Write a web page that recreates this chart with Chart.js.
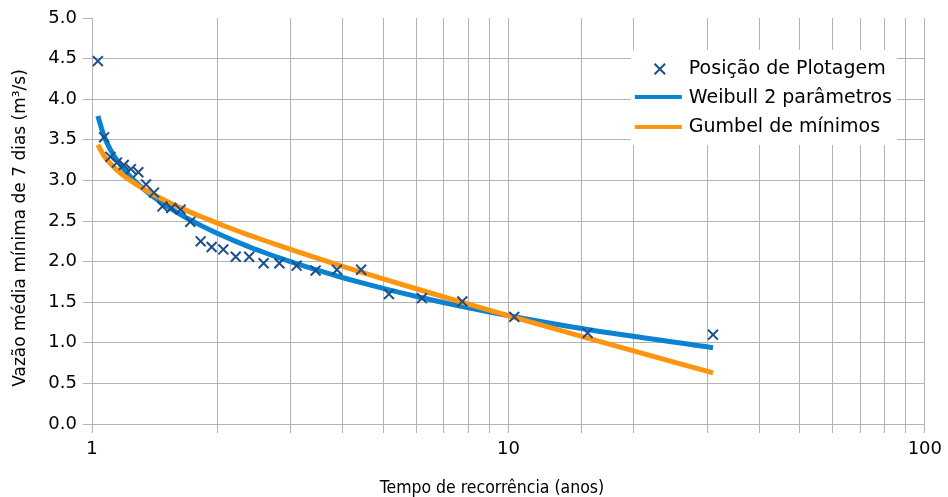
<!DOCTYPE html>
<html>
<head>
<meta charset="utf-8">
<script src="https://cdn.jsdelivr.net/npm/chart.js@4.4.0/dist/chart.umd.min.js"></script>
<style>
html,body{margin:0;padding:0;background:#ffffff;}
#wrap{position:relative;width:948px;height:497px;}
</style>
</head>
<body>
<div id="wrap"><canvas id="c" width="948" height="497"></canvas></div>
<script>
// ---- data ----
const returnPeriod = [1.033, 1.069, 1.107, 1.148, 1.192, 1.24, 1.292, 1.348, 1.409, 1.476, 1.55, 1.632, 1.722, 1.824, 1.938, 2.067, 2.214, 2.385, 2.583, 2.818, 3.10, 3.444, 3.875, 4.429, 5.167, 6.20, 7.75, 10.33, 15.5, 31.0];
const observed     = [4.47, 3.53, 3.29, 3.22, 3.19, 3.14, 3.10, 2.95, 2.85, 2.68, 2.66, 2.64, 2.49, 2.25, 2.18, 2.15, 2.06, 2.06, 1.98, 1.98, 1.95, 1.89, 1.90, 1.90, 1.60, 1.55, 1.51, 1.32, 1.12, 1.10];
const weibull2p    = [3.793, 3.545, 3.379, 3.249, 3.138, 3.040, 2.952, 2.870, 2.793, 2.719, 2.648, 2.579, 2.512, 2.446, 2.380, 2.315, 2.249, 2.182, 2.115, 2.045, 1.974, 1.901, 1.823, 1.741, 1.652, 1.555, 1.446, 1.320, 1.163, 0.940];
const gumbelMin    = [3.439, 3.303, 3.206, 3.127, 3.057, 2.994, 2.934, 2.877, 2.822, 2.769, 2.715, 2.662, 2.609, 2.555, 2.501, 2.444, 2.386, 2.326, 2.263, 2.196, 2.125, 2.048, 1.964, 1.871, 1.766, 1.644, 1.498, 1.314, 1.058, 0.630];
const seriesNames  = ['Posição de Plotagem', 'Weibull 2 parâmetros', 'Gumbel de mínimos'];
const xTickLabels  = [1, 10, 100];
const yTickLabels  = ['0.0','0.5','1.0','1.5','2.0','2.5','3.0','3.5','4.0','4.5','5.0'];
const xTitle = 'Tempo de recorrência (anos)';
const yTitle = 'Vazão média mínima de 7 dias (m³/s)';

// ---- styles ----
const markerColor = '#1d4f8c';
const weibullColor = '#0a83d1';
const gumbelColor = '#ff950e';
const gridColor = '#b3b3b3';

function pts(ys){ return returnPeriod.map((t,i)=>({x:t, y:ys[i]})); }

const titlesAndLegend = {
  id: 'titlesAndLegend',
  afterDraw(chart){
    const ctx = chart.ctx, ca = chart.chartArea;
    ctx.save();
    // axis titles
    ctx.fillStyle = '#000';
    ctx.textAlign = 'center';
    ctx.textBaseline = 'middle';
    ctx.font = '17.5px "DejaVu Sans Condensed", "DejaVu Sans"';
    ctx.fillText(xTitle, 492, 488);
    ctx.translate(21, 228);
    ctx.rotate(-Math.PI/2);
    ctx.font = '17px "DejaVu Sans"';
    ctx.fillText(yTitle, 0, 0);
    ctx.restore();

    // legend box
    ctx.save();
    const lx = ca.right - 294, ly = ca.top + 32;
    ctx.fillStyle = '#ffffff';
    ctx.fillRect(lx, ly, 266, 95);
    // marker
    const mx = lx + 29, my = ly + 19, r = 7;
    ctx.strokeStyle = markerColor; ctx.lineWidth = 2;
    ctx.beginPath();
    ctx.moveTo(mx - r*0.75, my - r*0.75); ctx.lineTo(mx + r*0.75, my + r*0.75);
    ctx.moveTo(mx + r*0.75, my - r*0.75); ctx.lineTo(mx - r*0.75, my + r*0.75);
    ctx.stroke();
    // lines
    ctx.lineWidth = 4;
    ctx.strokeStyle = weibullColor;
    ctx.beginPath(); ctx.moveTo(lx + 4, ly + 47); ctx.lineTo(lx + 51, ly + 47); ctx.stroke();
    ctx.strokeStyle = gumbelColor;
    ctx.beginPath(); ctx.moveTo(lx + 4, ly + 77); ctx.lineTo(lx + 51, ly + 77); ctx.stroke();
    // text
    ctx.fillStyle = '#000';
    ctx.font = '19px "DejaVu Sans"';
    ctx.textAlign = 'left';
    ctx.textBaseline = 'middle';
    ctx.fillText(seriesNames[0], lx + 58, ly + 19);
    ctx.fillText(seriesNames[1], lx + 58, ly + 48);
    ctx.fillText(seriesNames[2], lx + 58, ly + 77);
    ctx.restore();
  }
};

new Chart(document.getElementById('c'), {
  type: 'scatter',
  data: {
    datasets: [
      { label: seriesNames[0], data: pts(observed), showLine: false,
        pointStyle: 'crossRot', pointRadius: 7, pointHoverRadius: 7,
        borderColor: markerColor, backgroundColor: markerColor, borderWidth: 2 },
      { label: seriesNames[2], data: pts(gumbelMin), showLine: true,
        pointRadius: 0, borderColor: gumbelColor, backgroundColor: gumbelColor, borderWidth: 5,
        cubicInterpolationMode: 'monotone' },
      { label: seriesNames[1], data: pts(weibull2p), showLine: true,
        pointRadius: 0, borderColor: weibullColor, backgroundColor: weibullColor, borderWidth: 5,
        cubicInterpolationMode: 'monotone' }
    ]
  },
  options: {
    responsive: false,
    animation: false,
    devicePixelRatio: 1,
    layout: { padding: { top: 18, right: 22, left: 0, bottom: 0 } },
    plugins: { legend: { display: false }, tooltip: { enabled: false } },
    scales: {
      x: {
        type: 'logarithmic', min: 1, max: 100,
        afterFit(s){ s.height = 73; },
        grid: { color: gridColor, tickColor: gridColor, lineWidth: 1, tickLength: 9, drawTicks: true },
        border: { color: gridColor },
        ticks: {
          autoSkip: false, maxRotation: 0, minRotation: 0, padding: 6,
          color: '#000', font: { family: 'DejaVu Sans', size: 18 },
          callback: (v) => xTickLabels.includes(v) ? String(v) : ''
        }
      },
      y: {
        min: 0, max: 5,
        afterFit(s){ s.width = 92; },
        grid: {
          color: (c) => (c.tick && c.tick.value === 5) ? 'rgba(0,0,0,0)' : gridColor,
          tickColor: gridColor, lineWidth: 1, tickLength: 9, drawTicks: true
        },
        border: { color: gridColor },
        ticks: {
          stepSize: 0.5, padding: 6, color: '#000',
          font: { family: 'DejaVu Sans', size: 18 },
          callback: (v) => yTickLabels[Math.round(v*2)]
        }
      }
    }
  },
  plugins: [titlesAndLegend]
});
</script>
</body>
</html>
